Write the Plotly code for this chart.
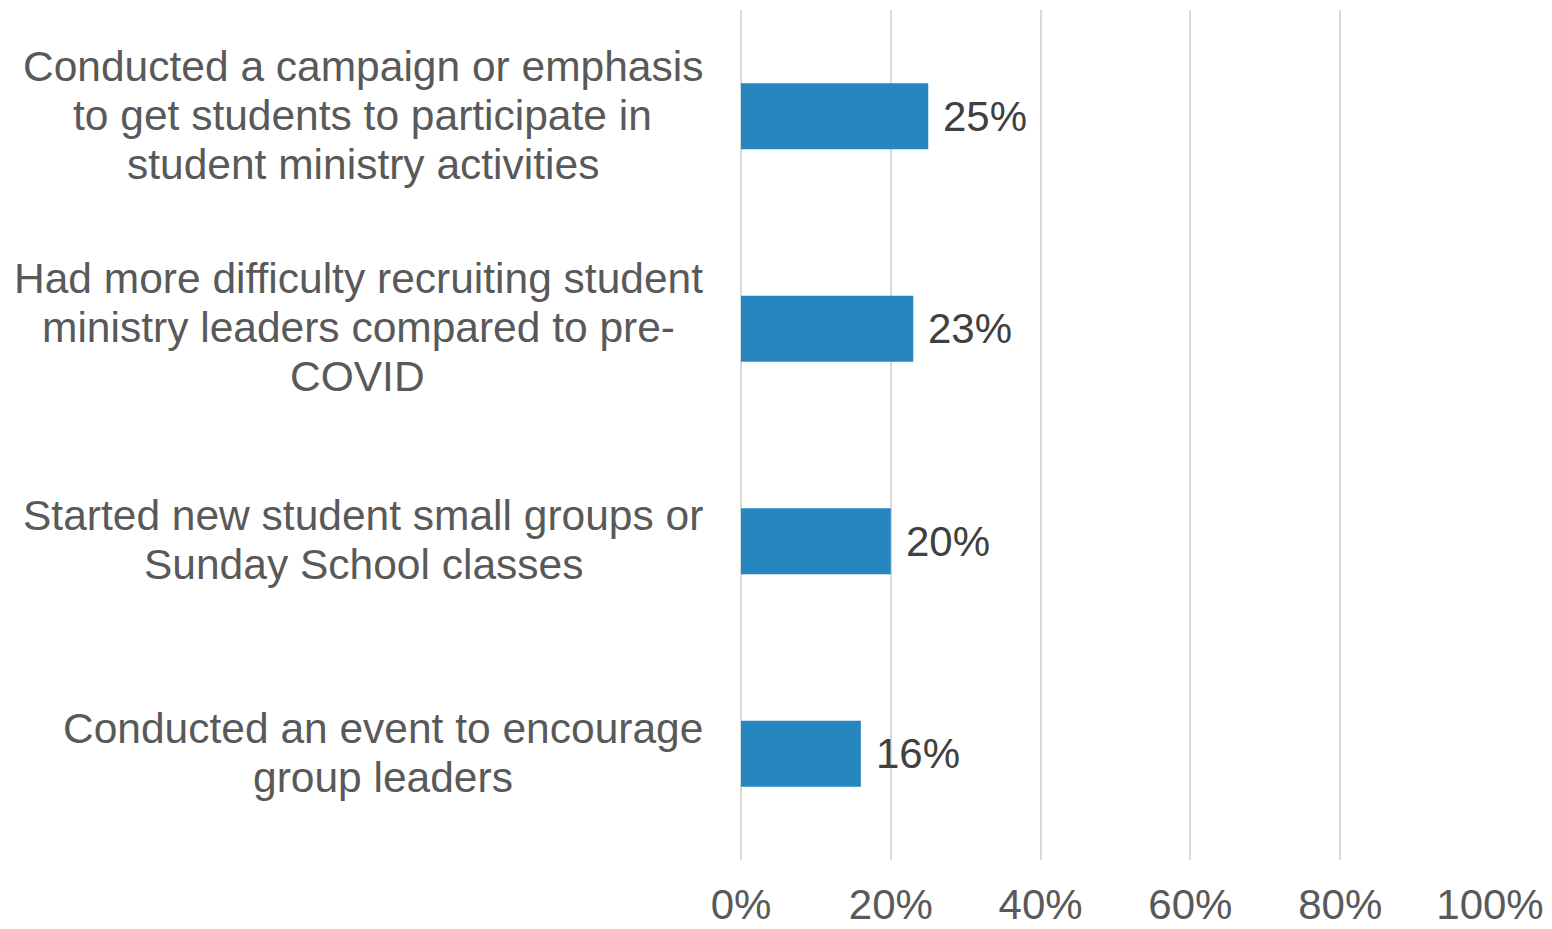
import plotly.graph_objects as go

categories = [
    "Conducted a campaign or emphasis<br>to get students to participate in<br>student ministry activities",
    "Had more difficulty recruiting student<br>ministry leaders compared to pre-<br>COVID",
    "Started new student small groups or<br>Sunday School classes",
    "Conducted an event to encourage<br>group leaders",
]
values = [25, 23, 20, 16]
value_labels = ["25%", "23%", "20%", "16%"]
tick_vals = [0, 20, 40, 60, 80, 100]
tick_text = ["0%", "20%", "40%", "60%", "80%", "100%"]

FONT = "Liberation Sans, Arial, sans-serif"
FS = 42
FS_CAT = 42.5
LINE_H = 49
GAP = 36  # px between label block and axis

# Arial / Liberation Sans advance widths (per 1000 em) for measuring line widths
ADV = {" ": 278, "-": 333, "%": 889}
ADV.update({c: 556 for c in "abdeghnopqu0123456789"})
ADV.update({c: 500 for c in "cksvxyz"})
ADV.update({c: 222 for c in "ijl"})
ADV.update({"f": 278, "t": 278, "r": 333, "m": 833, "w": 722})
ADV.update({"C": 722, "O": 778, "V": 667, "I": 278, "D": 722, "H": 722, "S": 667})


def text_w(s, size):
    return sum(ADV.get(ch, 556) for ch in s) * size / 1000.0


ids = list(range(len(categories)))

fig = go.Figure(go.Bar(
    x=values, y=ids, orientation="h",
    marker=dict(color="#2686C0", line=dict(width=0)),
    width=0.31,
    hoverinfo="skip",
))

annotations = []
for i, (cat, v, lab) in enumerate(zip(categories, values, value_labels)):
    lines = cat.split("<br>")
    n = len(lines)
    widths = [text_w(l, FS_CAT) for l in lines]
    block_w = max(widths)
    for j, (ln, w) in enumerate(zip(lines, widths)):
        annotations.append(dict(
            x=0, y=i, xref="x", yref="y", text=ln, showarrow=False,
            xanchor="right", yanchor="middle",
            xshift=-GAP - (block_w - w) / 2,
            yshift=((n - 1) / 2 - j) * LINE_H + 1,
            font=dict(family=FONT, size=FS_CAT, color="#595959"),
        ))
    annotations.append(dict(
        x=v, y=i, xref="x", yref="y", text=lab, showarrow=False,
        xanchor="left", xshift=13,
        font=dict(family=FONT, size=FS, color="#404040"),
    ))

fig.update_layout(
    width=1536, height=921,
    margin=dict(l=733, r=54, t=2, b=69, autoexpand=False),
    plot_bgcolor="white", paper_bgcolor="white",
    showlegend=False,
    annotations=annotations,
    xaxis=dict(
        range=[0, 100], tickvals=tick_vals, ticktext=tick_text,
        showgrid=True, gridcolor="#d9d9d9", gridwidth=2,
        zeroline=True, zerolinecolor="#d9d9d9", zerolinewidth=2,
        showline=False, ticks="", automargin=False,
        tickfont=dict(family=FONT, size=FS, color="#595959"),
        ticklabelstandoff=16,
    ),
    yaxis=dict(
        range=[3.5, -0.5], showticklabels=False, showgrid=False,
        zeroline=False, showline=False, ticks="", automargin=False,
    ),
)

fig.write_html("out.html")
